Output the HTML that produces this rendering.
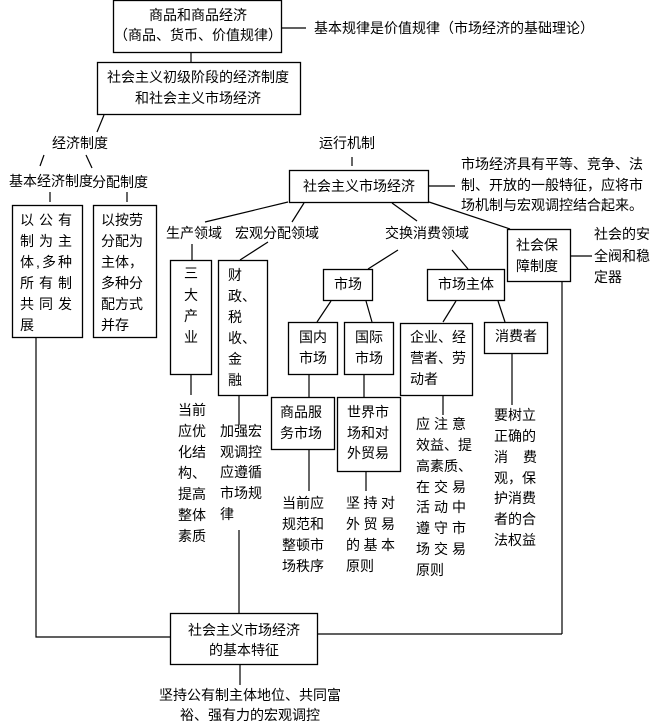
<!DOCTYPE html>
<html><head><meta charset="utf-8"><style>
html,body{margin:0;padding:0;background:#fff}
svg{display:block}
text{font-family:"Liberation Sans","Noto Sans CJK SC",sans-serif;font-size:14px;fill:#000;dominant-baseline:central}
.b{fill:#fff;stroke:#000;stroke-width:1.3}
line,polyline{stroke:#000;stroke-width:1.2;fill:none}
</style></head><body>
<svg width="652" height="721" viewBox="0 0 652 721" xmlns="http://www.w3.org/2000/svg">
<!-- top -->
<rect class="b" x="113.5" y="0.5" width="168" height="52"/>
<text x="198" y="15" text-anchor="middle">商品和商品经济</text>
<text x="198" y="35" text-anchor="middle">（商品、货币、价值规律）</text>
<line x1="282" y1="28" x2="306" y2="28"/>
<text x="314" y="28">基本规律是价值规律（市场经济的基础理论）</text>
<line x1="191" y1="52" x2="191" y2="62"/>
<rect class="b" x="97.5" y="62.5" width="203" height="52"/>
<text x="198" y="77" text-anchor="middle">社会主义初级阶段的经济制度</text>
<text x="198" y="98" text-anchor="middle">和社会主义市场经济</text>
<line x1="104" y1="115" x2="97" y2="132"/>
<text x="80" y="143" text-anchor="middle">经济制度</text>
<line x1="44" y1="155" x2="40" y2="166"/>
<line x1="86" y1="155" x2="92" y2="168"/>
<text x="9" y="181">基本经济制度</text>
<text x="92" y="182">分配制度</text>
<line x1="50" y1="192" x2="50" y2="202"/>
<line x1="127" y1="192" x2="127" y2="202"/>
<rect class="b" x="12.5" y="205.5" width="70" height="132"/>
<text x="20" y="220" textLength="52" lengthAdjust="spacing">以公有</text>
<text x="20" y="241" textLength="52" lengthAdjust="spacing">制为主</text>
<text x="20" y="262" textLength="52" lengthAdjust="spacing">体,多种</text>
<text x="20" y="283" textLength="52" lengthAdjust="spacing">所有制</text>
<text x="20" y="304" textLength="52" lengthAdjust="spacing">共同发</text>
<text x="20" y="325">展</text>
<rect class="b" x="93.5" y="205.5" width="63" height="132"/>
<text x="101" y="220">以按劳</text>
<text x="101" y="241">分配为</text>
<text x="101" y="262">主体，</text>
<text x="101" y="283">多种分</text>
<text x="101" y="304">配方式</text>
<text x="101" y="325">并存</text>
<polyline points="36,337 36,637 170,637"/>
<!-- running mechanism -->
<text x="347" y="143" text-anchor="middle">运行机制</text>
<line x1="352" y1="157" x2="352" y2="166"/>
<rect class="b" x="289.5" y="170.5" width="139" height="32"/>
<text x="359" y="186" text-anchor="middle">社会主义市场经济</text>
<line x1="429" y1="186" x2="455" y2="186"/>
<text x="461" y="164">市场经济具有平等、竞争、法</text>
<text x="461" y="185">制、开放的一般特征，应将市</text>
<text x="461" y="205">场机制与宏观调控结合起来。</text>
<line x1="288" y1="202" x2="205" y2="222"/>
<line x1="304" y1="203" x2="292" y2="222"/>
<line x1="392" y1="203" x2="417" y2="221"/>
<line x1="429" y1="202" x2="510" y2="229"/>
<text x="166" y="233">生产领域</text>
<text x="235" y="233">宏观分配领域</text>
<text x="385" y="233">交换消费领域</text>
<rect class="b" x="507.5" y="229.5" width="63" height="52"/>
<text x="516" y="245">社会保</text>
<text x="516" y="266">障制度</text>
<line x1="571" y1="256" x2="592" y2="256"/>
<text x="594" y="234" textLength="56" lengthAdjust="spacing">社会的安</text>
<text x="594" y="256" textLength="56" lengthAdjust="spacing">全阀和稳</text>
<text x="594" y="277">定器</text>
<line x1="562" y1="282" x2="562" y2="634"/>
<line x1="317" y1="634" x2="562" y2="634"/>
<!-- production -->
<line x1="192" y1="244" x2="192" y2="260"/>
<rect class="b" x="170.5" y="260.5" width="41" height="114"/>
<text x="191" y="273" text-anchor="middle">三</text>
<text x="191" y="295" text-anchor="middle">大</text>
<text x="191" y="316" text-anchor="middle">产</text>
<text x="191" y="337" text-anchor="middle">业</text>
<line x1="191" y1="374" x2="191" y2="395"/>
<text x="178" y="410">当前</text>
<text x="178" y="431">应优</text>
<text x="178" y="452">化结</text>
<text x="178" y="473">构、</text>
<text x="178" y="494">提高</text>
<text x="178" y="515">整体</text>
<text x="178" y="536">素质</text>
<!-- macro -->
<line x1="268" y1="242" x2="240" y2="260"/>
<rect class="b" x="218.5" y="260.5" width="49" height="135"/>
<text x="228" y="275">财</text>
<text x="228" y="296">政、</text>
<text x="228" y="317">税</text>
<text x="228" y="338">收、</text>
<text x="228" y="359">金</text>
<text x="228" y="380">融</text>
<line x1="239" y1="395" x2="239" y2="425"/>
<text x="220" y="431">加强宏</text>
<text x="220" y="452">观调控</text>
<text x="220" y="472">应遵循</text>
<text x="220" y="493">市场规</text>
<text x="220" y="514">律</text>
<line x1="239" y1="530" x2="239" y2="613"/>
<!-- market -->
<line x1="398" y1="250" x2="368" y2="269"/>
<line x1="452" y1="250" x2="468" y2="269"/>
<rect class="b" x="323.5" y="269.5" width="49" height="31"/>
<text x="348" y="284" text-anchor="middle">市场</text>
<rect class="b" x="427.5" y="269.5" width="77" height="31"/>
<text x="466" y="284" text-anchor="middle">市场主体</text>
<line x1="331" y1="301" x2="317" y2="322"/>
<line x1="366" y1="301" x2="372" y2="322"/>
<rect class="b" x="288.5" y="322.5" width="49" height="52"/>
<text x="313" y="337" text-anchor="middle">国内</text>
<text x="313" y="358" text-anchor="middle">市场</text>
<rect class="b" x="344.5" y="322.5" width="49" height="52"/>
<text x="369" y="337" text-anchor="middle">国际</text>
<text x="369" y="358" text-anchor="middle">市场</text>
<line x1="309" y1="374" x2="309" y2="397"/>
<line x1="364" y1="374" x2="364" y2="397"/>
<rect class="b" x="271.5" y="397.5" width="63" height="52"/>
<text x="280" y="412">商品服</text>
<text x="280" y="433">务市场</text>
<rect class="b" x="337.5" y="397.5" width="63" height="74"/>
<text x="347" y="412">世界市</text>
<text x="347" y="433">场和对</text>
<text x="347" y="453">外贸易</text>
<line x1="309" y1="449" x2="309" y2="491"/>
<line x1="366" y1="471" x2="366" y2="491"/>
<text x="282" y="503">当前应</text>
<text x="282" y="524">规范和</text>
<text x="282" y="545">整顿市</text>
<text x="282" y="566">场秩序</text>
<text x="346" y="503" textLength="49" lengthAdjust="spacing">坚持对</text>
<text x="346" y="524" textLength="49" lengthAdjust="spacing">外贸易</text>
<text x="346" y="545" textLength="49" lengthAdjust="spacing">的基本</text>
<text x="346" y="566">原则</text>
<!-- subjects -->
<line x1="456" y1="301" x2="443" y2="322"/>
<line x1="498" y1="301" x2="505" y2="322"/>
<rect class="b" x="400.5" y="323.5" width="72" height="72"/>
<text x="410" y="337">企业、经</text>
<text x="410" y="358">营者、劳</text>
<text x="410" y="379">动者</text>
<rect class="b" x="484.5" y="322.5" width="63" height="31"/>
<text x="516" y="336" text-anchor="middle">消费者</text>
<line x1="443" y1="395" x2="443" y2="415"/>
<text x="416" y="424" textLength="50" lengthAdjust="spacing">应注意</text>
<text x="416" y="445">效益、提</text>
<text x="416" y="466">高素质、</text>
<text x="416" y="487" textLength="50" lengthAdjust="spacing">在交易</text>
<text x="416" y="507" textLength="50" lengthAdjust="spacing">活动中</text>
<text x="416" y="528" textLength="50" lengthAdjust="spacing">遵守市</text>
<text x="416" y="549" textLength="50" lengthAdjust="spacing">场交易</text>
<text x="416" y="570">原则</text>
<line x1="512" y1="353" x2="512" y2="405"/>
<text x="494" y="415">要树立</text>
<text x="494" y="436">正确的</text>
<text x="494" y="457" textLength="43" lengthAdjust="spacing">消费</text>
<text x="494" y="478">观，保</text>
<text x="494" y="498">护消费</text>
<text x="494" y="519">者的合</text>
<text x="494" y="540">法权益</text>
<!-- bottom -->
<rect class="b" x="170.5" y="613.5" width="147" height="51"/>
<text x="244" y="630" text-anchor="middle">社会主义市场经济</text>
<text x="244" y="650" text-anchor="middle">的基本特征</text>
<line x1="240" y1="665" x2="240" y2="685"/>
<text x="250" y="695" text-anchor="middle">坚持公有制主体地位、共同富</text>
<text x="250" y="715" text-anchor="middle">裕、强有力的宏观调控</text>
</svg>
</body></html>
